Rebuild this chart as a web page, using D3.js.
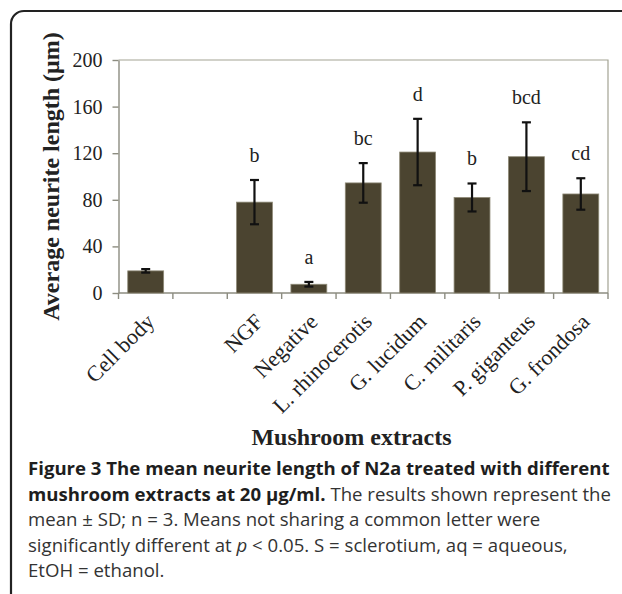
<!DOCTYPE html>
<html>
<head>
<meta charset="utf-8">
<script src="https://cdn.jsdelivr.net/npm/d3@7"></script>
<style>
  body { margin: 0; background: #fff; }
  svg { display: block; }
</style>
</head>
<body>
<svg width="622" height="594"></svg>
<script>
// categories along the x axis (one empty slot between Cell body and NGF)
var categories = ["Cell body", "", "NGF", "Negative", "L. rhinocerotis", "G. lucidum",
  "C. militaris", "P. giganteus", "G. frondosa"];
// mean neurite length (um) and SD
var means = [19, null, 78, 7.5, 94.5, 121, 82, 117, 85];
var sds = [1.5, null, 19, 2, 17, 28.5, 12, 29.5, 13.5];
// significance letters
var letters = ["", "", "b", "a", "bc", "d", "b", "bcd", "cd"];
var yTicks = [0, 40, 80, 120, 160, 200];

var svg = d3.select("svg");
var plotLeft = 118.5, plotRight = 608, plotTop = 60, plotBottom = 293;
var serif = "'Liberation Serif', 'Times New Roman', serif";
var sans = "'Open Sans', 'Noto Sans', sans-serif";

// panel border (rounded corner top left, runs off the page)
svg.append("rect")
  .attr("x", 11).attr("y", 11)
  .attr("width", 700).attr("height", 700)
  .attr("rx", 13).attr("ry", 13)
  .attr("fill", "none")
  .attr("stroke", "#222")
  .attr("stroke-width", 2.2);

var x = d3.scaleBand()
  .domain(categories)
  .range([plotLeft, plotRight])
  .paddingInner(0.34)
  .paddingOuter(0.17);

var y = d3.scaleLinear().domain([0, 200]).range([plotBottom, plotTop]);

// plot frame (top and right)
svg.append("path")
  .attr("d", "M" + plotLeft + "," + plotTop + "H" + plotRight + "V" + plotBottom)
  .attr("fill", "none")
  .attr("stroke", "#a3a393")
  .attr("stroke-width", 1.2);

// y axis
var yAxis = svg.append("g")
  .attr("transform", "translate(" + plotLeft + ",0)")
  .call(d3.axisLeft(y).tickValues(yTicks).tickSize(6).tickPadding(10).tickSizeOuter(0));
yAxis.select(".domain").attr("stroke", "#8c8c80").attr("stroke-width", 1.4);
yAxis.selectAll(".tick line").attr("stroke", "#8c8c80").attr("stroke-width", 1.4);
yAxis.selectAll("text")
  .attr("font-family", serif)
  .attr("font-size", 20)
  .attr("fill", "#222");

// x axis line and boundary ticks
svg.append("line")
  .attr("x1", plotLeft).attr("x2", plotRight)
  .attr("y1", plotBottom).attr("y2", plotBottom)
  .attr("stroke", "#8c8c80").attr("stroke-width", 1.4);

var step = x.step();
svg.append("g").selectAll("line")
  .data(d3.range(categories.length + 1))
  .enter().append("line")
  .attr("x1", function (d) { return plotLeft + d * step; })
  .attr("x2", function (d) { return plotLeft + d * step; })
  .attr("y1", plotBottom).attr("y2", plotBottom + 6)
  .attr("stroke", "#8c8c80").attr("stroke-width", 1.4);

var rows = categories.map(function (c, i) {
  return { cat: c, mean: means[i], sd: sds[i], letter: letters[i] };
}).filter(function (d) { return d.mean != null; });

// bars
svg.append("g").selectAll("rect")
  .data(rows)
  .enter().append("rect")
  .attr("x", function (d) { return x(d.cat); })
  .attr("y", function (d) { return y(d.mean); })
  .attr("width", x.bandwidth())
  .attr("height", function (d) { return plotBottom - y(d.mean); })
  .attr("fill", "#4b4430")
  .attr("stroke", "#8f8b78")
  .attr("stroke-width", 0.8);

// error bars
var err = svg.append("g").attr("stroke", "#111").attr("stroke-width", 2.2);
rows.forEach(function (d) {
  var cx = x(d.cat) + x.bandwidth() / 2;
  var y1 = y(d.mean + d.sd), y2 = y(d.mean - d.sd);
  err.append("line").attr("x1", cx).attr("x2", cx).attr("y1", y1).attr("y2", y2);
  err.append("line").attr("x1", cx - 4.5).attr("x2", cx + 4.5).attr("y1", y1).attr("y2", y1);
  err.append("line").attr("x1", cx - 4.5).attr("x2", cx + 4.5).attr("y1", y2).attr("y2", y2);
});

// significance letters
svg.append("g").selectAll("text")
  .data(rows)
  .enter().append("text")
  .attr("x", function (d) { return x(d.cat) + x.bandwidth() / 2; })
  .attr("y", function (d) { return y(d.mean + d.sd) - 18; })
  .attr("text-anchor", "middle")
  .attr("font-family", serif)
  .attr("font-size", 20)
  .attr("fill", "#222")
  .text(function (d) { return d.letter; });

// rotated category labels
svg.append("g").selectAll("text")
  .data(categories.filter(function (c) { return c !== ""; }))
  .enter().append("text")
  .attr("transform", function (c) {
    return "translate(" + (x(c) + x.bandwidth() / 2 + 10) + "," + (plotBottom + 30) + ") rotate(-45)";
  })
  .attr("text-anchor", "end")
  .attr("font-family", serif)
  .attr("font-size", 22)
  .attr("fill", "#222")
  .text(function (c) { return c; });

// axis titles
svg.append("text")
  .attr("transform", "translate(59," + ((plotTop + plotBottom) / 2) + ") rotate(-90)")
  .attr("text-anchor", "middle")
  .attr("font-family", serif)
  .attr("font-weight", "bold")
  .attr("font-size", 24)
  .attr("fill", "#222")
  .text("Average neurite length (\u03bcm)");

svg.append("text")
  .attr("x", 351.5).attr("y", 445)
  .attr("text-anchor", "middle")
  .attr("font-family", serif)
  .attr("font-weight", "bold")
  .attr("font-size", 24)
  .attr("fill", "#222")
  .text("Mushroom extracts");

// caption
var cap = svg.append("g")
  .attr("font-family", sans)
  .attr("font-size", 18.6)
  .attr("fill", "#333");

var l1 = cap.append("text").attr("x", 28).attr("y", 475).attr("font-weight", "bold").attr("fill", "#1e1e1e");
l1.text("Figure 3 The mean neurite length of N2a treated with different");

var l2 = cap.append("text").attr("x", 28).attr("y", 500.5);
l2.append("tspan").attr("font-weight", "bold").attr("fill", "#1e1e1e").text("mushroom extracts at 20 \u00b5g/ml.");
l2.append("tspan").text(" The results shown represent the");

cap.append("text").attr("x", 28).attr("y", 526)
  .text("mean \u00b1 SD; n = 3. Means not sharing a common letter were");

var l4 = cap.append("text").attr("x", 28).attr("y", 551.5);
l4.append("tspan").text("significantly different at ");
l4.append("tspan").attr("font-style", "italic").text("p");
l4.append("tspan").text(" < 0.05. S = sclerotium, aq = aqueous,");

cap.append("text").attr("x", 28).attr("y", 577).text("EtOH = ethanol.");
</script>
</body>
</html>
